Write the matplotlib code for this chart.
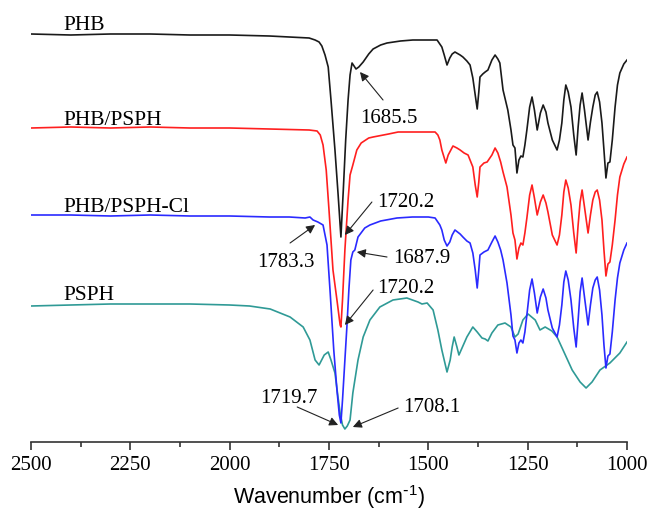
import matplotlib
matplotlib.use("Agg")
import matplotlib.pyplot as plt

plt.rcParams['font.family'] = ['Liberation Serif', 'DejaVu Serif']
plt.rcParams['mathtext.default'] = 'regular'

# spectra: wavenumber (cm-1) and stacked, offset transmittance (a.u.)
phb_wn = [2500, 2400, 2300, 2200, 2100, 2000, 1900, 1850, 1800, 1785, 1775, 1768, 1760, 1752,
          1745, 1735, 1727, 1720, 1714, 1708, 1702, 1697, 1692, 1687, 1682, 1675, 1664, 1650,
          1639, 1620, 1604, 1570, 1539, 1500, 1478, 1466, 1460, 1453, 1446, 1440, 1433, 1420,
          1413, 1403, 1395, 1388, 1382, 1377, 1373, 1370, 1363, 1357, 1350, 1340, 1332, 1325,
          1320, 1312, 1300, 1292, 1287, 1282, 1277, 1272, 1267, 1262, 1257, 1252, 1245, 1239,
          1233, 1226, 1218, 1211, 1204, 1199, 1188, 1176, 1170, 1164, 1159, 1154, 1148, 1141,
          1134, 1128, 1123, 1118, 1113, 1107, 1098, 1092, 1086, 1080, 1075, 1069, 1063, 1058,
          1053, 1048, 1043, 1037, 1030, 1024, 1018, 1008, 1000]
phb_t = [406, 405, 406, 406, 405, 405, 404, 403, 402, 400, 398, 394, 385, 373,
         340, 290, 245, 203, 250, 300, 340, 365, 377, 374, 371, 373, 378, 386,
         391, 395, 397, 399, 400, 400, 400, 393, 385, 375, 382, 386, 388, 385,
         383, 379, 375, 362, 345, 331, 348, 363, 366, 368, 370, 380, 385, 381,
         377, 350, 330, 310, 295, 292, 267, 280, 284, 283, 295, 310, 333, 343,
         330, 310, 327, 335, 328, 317, 300, 290, 300, 317, 340, 355, 348, 333,
         305, 285, 313, 335, 347, 330, 300, 318, 333, 345, 348, 338, 317, 290,
         262, 277, 278, 300, 333, 355, 367, 376, 380]

phb_psph_wn = [2500, 2400, 2300, 2200, 2100, 2000, 1900, 1800, 1780, 1772, 1765, 1757, 1750,
               1740, 1730, 1722, 1720, 1716, 1710, 1702, 1697, 1690, 1680, 1669, 1650, 1639,
               1600, 1576, 1540, 1500, 1483, 1476, 1471, 1466, 1456, 1450, 1438, 1428, 1420,
               1410, 1400, 1395, 1388, 1382, 1377, 1373, 1370, 1360, 1352, 1340, 1332, 1325,
               1318, 1312, 1302, 1292, 1287, 1282, 1277, 1272, 1267, 1262, 1257, 1252, 1245,
               1239, 1233, 1226, 1218, 1211, 1204, 1199, 1188, 1176, 1170, 1164, 1159, 1154,
               1148, 1141, 1134, 1128, 1123, 1118, 1113, 1107, 1098, 1092, 1086, 1080, 1075,
               1069, 1063, 1058, 1053, 1048, 1043, 1037, 1030, 1024, 1018, 1008, 1000]
phb_psph_t = [312, 313, 312, 313, 312, 312, 311, 310, 309, 305, 295, 270, 230,
              170, 140, 115, 113, 140, 190, 240, 265, 275, 290, 297, 302, 303,
              306, 308, 308, 308, 308, 305, 300, 290, 277, 285, 294, 292, 290,
              287, 285, 280, 273, 255, 243, 258, 273, 277, 278, 285, 292, 287,
              278, 268, 253, 225, 207, 200, 181, 192, 197, 195, 207, 222, 245,
              255, 242, 225, 238, 245, 237, 228, 205, 195, 205, 225, 248, 260,
              252, 235, 207, 187, 215, 238, 250, 233, 207, 225, 240, 248, 250,
              240, 220, 190, 164, 176, 178, 195, 220, 245, 263, 276, 283]

phb_cl_wn = [2500, 2400, 2300, 2200, 2100, 2000, 1900, 1850, 1810, 1798, 1790, 1778, 1765,
             1755, 1747, 1738, 1730, 1724, 1720, 1716, 1710, 1705, 1700, 1695, 1690, 1685,
             1677, 1660, 1647, 1620, 1579, 1540, 1500, 1483, 1471, 1466, 1460, 1453, 1446,
             1440, 1433, 1420, 1413, 1403, 1395, 1388, 1382, 1377, 1373, 1370, 1360, 1350,
             1340, 1332, 1325, 1318, 1312, 1302, 1292, 1287, 1282, 1277, 1272, 1267, 1262,
             1257, 1252, 1245, 1239, 1233, 1226, 1218, 1211, 1204, 1199, 1188, 1176, 1170,
             1164, 1159, 1154, 1148, 1141, 1134, 1128, 1123, 1118, 1113, 1107, 1098, 1092,
             1086, 1080, 1075, 1069, 1063, 1058, 1053, 1048, 1043, 1037, 1030, 1024, 1018,
             1008, 1000]
phb_cl_t = [225, 225, 224, 225, 224, 224, 223, 223, 222, 223, 220, 218, 215,
            195, 147, 90, 50, 25, 17, 40, 80, 113, 150, 180, 188, 190,
            203, 212, 215, 219, 222, 223, 223, 222, 215, 210, 200, 194, 198,
            205, 210, 206, 203, 199, 197, 187, 170, 152, 170, 185, 188, 190,
            198, 204, 198, 190, 180, 157, 125, 104, 100, 87, 97, 100, 97,
            108, 125, 150, 161, 147, 127, 143, 151, 142, 130, 112, 103, 115,
            135, 158, 169, 160, 140, 112, 93, 120, 148, 162, 143, 115, 135,
            152, 160, 163, 150, 125, 95, 72, 84, 86, 108, 140, 162, 177,
            190, 197]

psph_wn = [2500, 2400, 2300, 2200, 2100, 2000, 1950, 1898, 1848, 1815, 1798, 1785, 1775,
           1762, 1752, 1745, 1735, 1728, 1722, 1716, 1710, 1704, 1697, 1690, 1677, 1664,
           1647, 1622, 1589, 1554, 1526, 1516, 1503, 1488, 1476, 1466, 1453, 1445, 1440,
           1435, 1428, 1423, 1403, 1388, 1377, 1365, 1357, 1350, 1340, 1325, 1307, 1292,
           1282, 1274, 1262, 1249, 1231, 1219, 1206, 1189, 1176, 1161, 1138, 1118, 1103,
           1088, 1068, 1043, 1018, 1000]
psph_t = [134, 135, 136, 136, 136, 135, 134, 131, 123, 113, 100, 80, 75,
          85, 88, 80, 67, 45, 27, 15, 11, 14, 20, 47, 80, 103,
          120, 133, 140, 142, 138, 136, 137, 130, 110, 90, 68, 80, 93,
          103, 93, 85, 103, 113, 108, 102, 101, 99, 107, 115, 117, 113,
          103, 106, 120, 126, 120, 110, 113, 109, 103, 90, 70, 58, 52,
          58, 70, 77, 87, 98]

names = ['PHB', 'PHB/PSPH', 'PHB/PSPH-Cl', 'PSPH']
colors = ['#1a1a1a', '#ff1f1f', '#2a2aff', '#2f9a96']
name_pos = [(2419, 410), (2419, 315), (2419, 228), (2419, 140)]

# peak labels: text, text position (left, baseline), arrow tail, arrow tip
peak_text = ['1685.5', '1720.2', '1783.3', '1687.9', '1720.2', '1719.7', '1708.1']
peak_text_pos = [(1672, 317), (1629, 233), (1931, 173), (1589, 177), (1629, 147), (1924, 37), (1564, 28)]
peak_tail = [(1614, 340), (1642, 238), (1848, 197), (1604, 183), (1639, 150), (1830, 33), (1576, 32)]
peak_tip = [(1672, 368), (1710, 205), (1785, 215), (1680, 188), (1710, 115), (1727, 15), (1690, 13)]

fig = plt.figure(figsize=(6.48, 5.12), dpi=100)
ax = fig.add_axes([31 / 648, 70 / 512, 596 / 648, 442 / 512])

series = [(psph_wn, psph_t, 3), (phb_cl_wn, phb_cl_t, 2), (phb_psph_wn, phb_psph_t, 1), (phb_wn, phb_t, 0)]
for wn, t, i in series:
    ax.plot(wn, t, color=colors[i], lw=1.2, solid_joinstyle='round')

for i, name in enumerate(names):
    ax.text(name_pos[i][0], name_pos[i][1], name, fontsize=15.5, ha='left', va='baseline')

for txt, pos, tail, tip in zip(peak_text, peak_text_pos, peak_tail, peak_tip):
    ax.text(pos[0], pos[1], txt, fontsize=15, ha='left', va='baseline')
    ax.annotate('', xy=tip, xytext=tail,
                arrowprops=dict(arrowstyle='-|>', color='#222222', lw=0.8, mutation_scale=13,
                                shrinkA=0, shrinkB=0))

ax.set_xlim(2500, 1000)
ax.set_ylim(-2, 440)
ax.set_xticks([2500, 2250, 2000, 1750, 1500, 1250, 1000])
ax.set_xticks([2375, 2125, 1875, 1625, 1375, 1125], minor=True)
ax.set_yticks([])
for s in ['left', 'right', 'top']:
    ax.spines[s].set_visible(False)
ax.spines['bottom'].set_linewidth(1.2)
ax.spines['bottom'].set_color('#333333')
ax.tick_params(axis='x', which='major', direction='out', length=6, width=1.2, color='#333333',
               labelsize=15, pad=4)
ax.tick_params(axis='x', which='minor', direction='out', length=3.5, width=1.2, color='#333333')
ax.set_xlabel('Wavenumber (cm$^{\\text{-}1}$)', fontsize=15.5, family='Liberation Sans', labelpad=6)

fig.savefig('out.png', dpi=100)
